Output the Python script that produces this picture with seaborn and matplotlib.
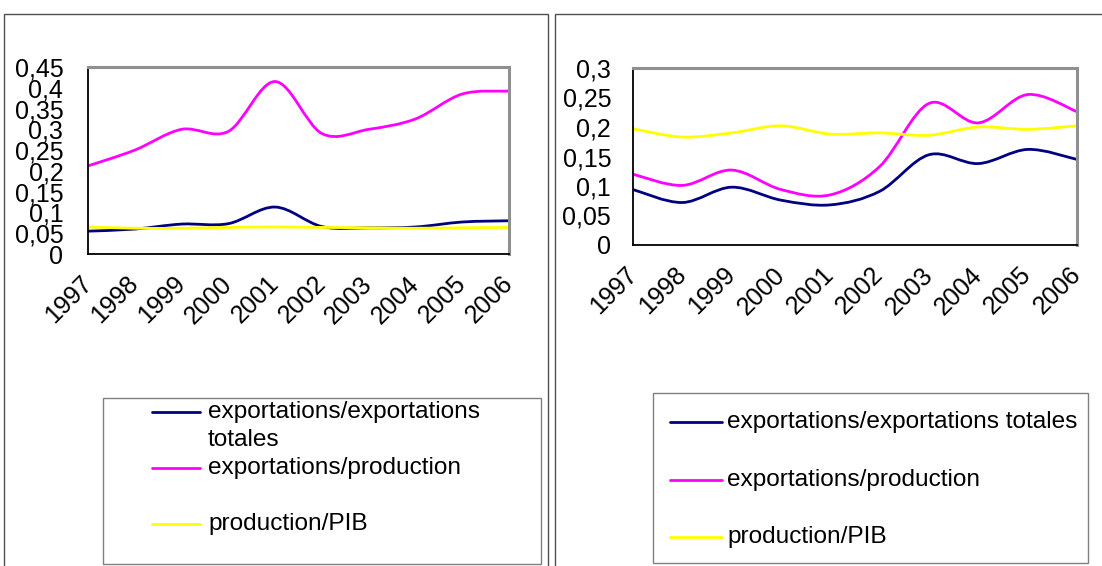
import numpy as np
import pandas as pd
import matplotlib
matplotlib.use("Agg")
import matplotlib.pyplot as plt
import seaborn as sns
from matplotlib.path import Path
from matplotlib.patches import PathPatch, Rectangle
from matplotlib.lines import Line2D
from matplotlib.ticker import MultipleLocator, FuncFormatter

# data
years = list(range(1997, 2007))
series_names = [
    "exportations/exportations totales",
    "exportations/production",
    "production/PIB",
]
series_colors = ["#000080", "#FF00FF", "#FFFF00"]

left_exp_tot = [0.055, 0.060, 0.072, 0.073, 0.113, 0.066, 0.063, 0.065, 0.077, 0.080]
left_exp_prod = [0.212, 0.250, 0.300, 0.295, 0.415, 0.290, 0.300, 0.325, 0.385, 0.392]
left_prod_pib = [0.065, 0.062, 0.062, 0.064, 0.065, 0.064, 0.063, 0.062, 0.063, 0.064]

right_exp_tot = [0.094, 0.072, 0.098, 0.076, 0.068, 0.091, 0.153, 0.138, 0.162, 0.145]
right_exp_prod = [0.120, 0.101, 0.127, 0.094, 0.085, 0.133, 0.240, 0.207, 0.255, 0.226]
right_prod_pib = [0.197, 0.183, 0.190, 0.202, 0.188, 0.190, 0.186, 0.200, 0.196, 0.202]

left_ymax = 0.45
right_ymax = 0.3

W, H = 1102, 566
FS_TICK = 18
FS_LEG = 17.6


def to_long(a, b, c):
    frames = []
    for name, vals in zip(series_names, [a, b, c]):
        frames.append(pd.DataFrame({"annee": years, "valeur": vals, "serie": name}))
    return pd.concat(frames, ignore_index=True)


def smooth_lines(ax):
    # replace seaborn's straight segments by Excel-like smoothed curves
    for line in list(ax.lines):
        x, y = line.get_data()
        x = np.asarray(x, float)
        y = np.asarray(y, float)
        n = len(x)
        verts = [(x[0], y[0])]
        codes = [Path.MOVETO]
        for i in range(n - 1):
            i0 = max(i - 1, 0)
            i3 = min(i + 2, n - 1)
            c1 = (x[i] + (x[i + 1] - x[i0]) / 6, y[i] + (y[i + 1] - y[i0]) / 6)
            c2 = (x[i + 1] - (x[i3] - x[i]) / 6, y[i + 1] - (y[i3] - y[i]) / 6)
            verts += [c1, c2, (x[i + 1], y[i + 1])]
            codes += [Path.CURVE4] * 3
        ax.add_patch(PathPatch(Path(verts, codes), fill=False,
                               edgecolor=line.get_color(), lw=2.0,
                               capstyle="butt", joinstyle="round"))
        line.remove()


def style_axes(ax, ymax, ypad):
    ax.set_xlim(years[0], years[-1])
    ax.set_ylim(0, ymax)
    ax.set_xticks(years)
    ax.set_xticklabels([str(y) for y in years], rotation=45, ha="right",
                       va="center", rotation_mode="anchor")
    ax.yaxis.set_major_locator(MultipleLocator(0.05))
    ax.yaxis.set_major_formatter(
        FuncFormatter(lambda v, p: f"{round(v, 2):g}".replace(".", ",")))
    ax.set_xlabel("")
    ax.set_ylabel("")
    ax.tick_params(axis="both", direction="inout", length=11.5, width=1,
                   color="#404040", labelsize=FS_TICK, labelcolor="black")
    ax.tick_params(axis="y", pad=ypad)
    ax.tick_params(axis="x", pad=13)
    for side in ["left", "bottom"]:
        ax.spines[side].set_color("black")
        ax.spines[side].set_linewidth(1.3)
    for side in ["top", "right"]:
        ax.spines[side].set_color("#909090")
        ax.spines[side].set_linewidth(2.2)
        ax.spines[side].set_visible(True)
    ax.grid(False)


def draw_legend(fig, box, handle_x, text_x, rows):
    x0, y0, x1, y1 = box
    fig.patches.append(Rectangle((x0 / W, 1 - y1 / H), (x1 - x0) / W, (y1 - y0) / H,
                                 transform=fig.transFigure, fill=False,
                                 edgecolor="#808080", lw=1.0))
    for (yc, label, color) in rows:
        fig.add_artist(Line2D([handle_x[0] / W, handle_x[1] / W], [1 - yc / H, 1 - yc / H],
                              transform=fig.transFigure, color=color, lw=2.0))
        for k, part in enumerate(label.split("\n")):
            fig.text(text_x / W, 1 - (yc + 28 * k) / H, part, fontsize=FS_LEG,
                     ha="left", va="center", color="black")


sns.set_theme(style="white")
plt.rcParams["font.family"] = ["Liberation Sans", "DejaVu Sans"]

fig = plt.figure(figsize=(W / 100, H / 100), dpi=100)
fig.patch.set_facecolor("white")

# outer chart frames
fig.patches.append(Rectangle((4 / W, -0.1), (548 - 4) / W, 1.1 - 14 / H,
                             transform=fig.transFigure, fill=False,
                             edgecolor="#505050", lw=1.0))
fig.patches.append(Rectangle((555 / W, -0.1), 0.6, 1.1 - 14 / H,
                             transform=fig.transFigure, fill=False,
                             edgecolor="#505050", lw=1.0))

palette = dict(zip(series_names, series_colors))

ax1 = fig.add_axes([88 / W, 1 - 254 / H, (509 - 88) / W, (254 - 67) / H])
sns.lineplot(data=to_long(left_exp_tot, left_exp_prod, left_prod_pib),
             x="annee", y="valeur", hue="serie", palette=palette,
             legend=False, ax=ax1)
smooth_lines(ax1)
style_axes(ax1, left_ymax, 12)

ax2 = fig.add_axes([633 / W, 1 - 245 / H, (1077 - 633) / W, (245 - 68) / H])
sns.lineplot(data=to_long(right_exp_tot, right_exp_prod, right_prod_pib),
             x="annee", y="valeur", hue="serie", palette=palette,
             legend=False, ax=ax2)
smooth_lines(ax2)
style_axes(ax2, right_ymax, 10)

draw_legend(fig, (103, 398, 541, 564), (152, 200), 208, [
    (412, "exportations/exportations\ntotales", series_colors[0]),
    (468, series_names[1], series_colors[1]),
    (524, series_names[2], series_colors[2]),
])
draw_legend(fig, (653, 393, 1088, 563), (670, 722), 727, [
    (422, series_names[0], series_colors[0]),
    (480, series_names[1], series_colors[1]),
    (537, series_names[2], series_colors[2]),
])

fig.savefig("out.png", dpi=100, facecolor="white")
